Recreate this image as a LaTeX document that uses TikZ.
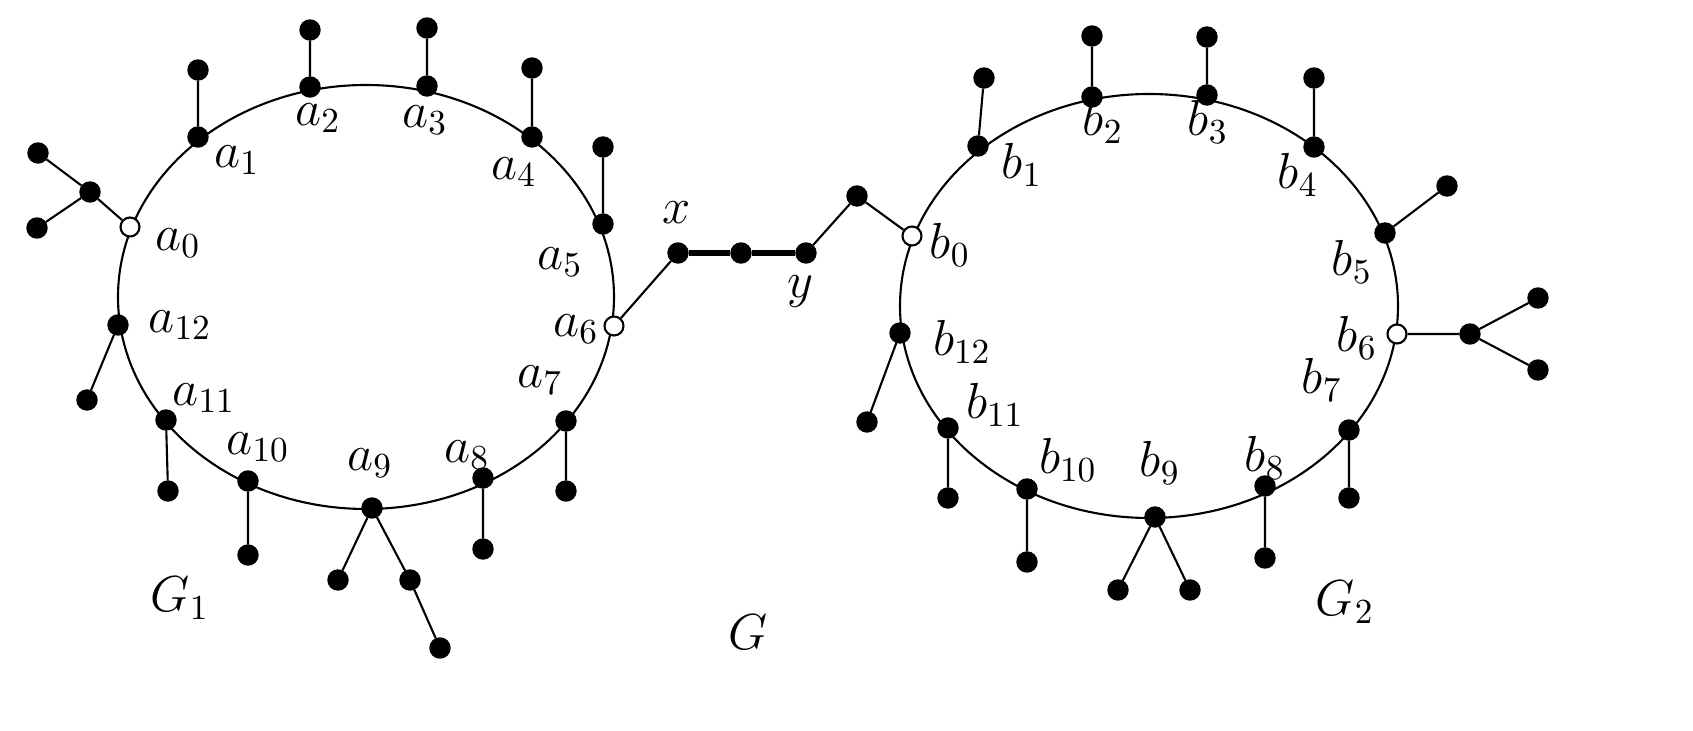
\documentclass[tikz,border=0pt]{standalone}
\begin{document}
\begin{tikzpicture}[x=0.01cm,y=-0.01cm,
  dot/.style={circle,fill=black,draw=black,inner sep=0pt,minimum size=0.2cm},
  odot/.style={circle,fill=white,draw=black,line width=0.6pt,inner sep=0pt,minimum size=0.19cm},
  lbl/.style={font=\fontsize{14}{16}\selectfont},
  edge/.style={line width=0.6pt},
  heavy/.style={line width=1.5pt}]
\useasboundingbox (0,0) rectangle (1693,731);
\draw[edge] (366,297) ellipse [x radius=248, y radius=212];
\draw[edge] (1149,306) ellipse [x radius=249, y radius=212];
\node[odot] (a0) at (130,227) {};
\node[dot] (a1) at (198,137) {};
\node[dot] (a2) at (310,87) {};
\node[dot] (a3) at (427,86) {};
\node[dot] (a4) at (532,137) {};
\node[dot] (a5) at (603,224) {};
\node[odot] (a6) at (614,326) {};
\node[dot] (a7) at (566,421) {};
\node[dot] (a8) at (483,478) {};
\node[dot] (a9) at (372,508) {};
\node[dot] (a10) at (248,481) {};
\node[dot] (a11) at (166,420) {};
\node[dot] (a12) at (118,325) {};
\node[dot] (p0) at (90,192) {};
\node[dot] (p0a) at (38,153) {};
\node[dot] (p0b) at (37,228) {};
\node[dot] (p1) at (198,70) {};
\node[dot] (p2) at (310,30) {};
\node[dot] (p3) at (427,28) {};
\node[dot] (p4) at (532,68) {};
\node[dot] (p5) at (603,147) {};
\node[dot] (p7) at (566,491) {};
\node[dot] (p8) at (483,549) {};
\node[dot] (p9a) at (338,580) {};
\node[dot] (p9b) at (410,580) {};
\node[dot] (p9c) at (440,648) {};
\node[dot] (p10) at (248,555) {};
\node[dot] (p11) at (168,491) {};
\node[dot] (p12) at (87,400) {};
\draw[edge] (a0)--(p0) (p0)--(p0a) (p0)--(p0b) (a1)--(p1) (a2)--(p2) (a3)--(p3)
  (a4)--(p4) (a5)--(p5) (a7)--(p7) (a8)--(p8) (a9)--(p9a) (a9)--(p9b) (p9b)--(p9c)
  (a10)--(p10) (a11)--(p11) (a12)--(p12);
\node[dot] (x) at (678,253) {};
\node[dot] (m) at (741,253) {};
\node[dot] (y) at (806,253) {};
\node[dot] (q) at (857,196) {};
\node[odot] (b0) at (912,236) {};
\draw[edge] (a6)--(x);
\draw[heavy] (x)--(m)--(y);
\draw[edge] (y)--(q)--(b0);
\node[dot] (b1) at (978,146) {};
\node[dot] (b2) at (1092,97) {};
\node[dot] (b3) at (1207,95) {};
\node[dot] (b4) at (1314,147) {};
\node[dot] (b5) at (1385,233) {};
\node[odot] (b6) at (1397,334) {};
\node[dot] (b7) at (1349,430) {};
\node[dot] (b8) at (1265,486) {};
\node[dot] (b9) at (1155,517) {};
\node[dot] (b10) at (1027,489) {};
\node[dot] (b11) at (948,428) {};
\node[dot] (b12) at (900,333) {};
\node[dot] (r1) at (984,78) {};
\node[dot] (r2) at (1092,36) {};
\node[dot] (r3) at (1207,37) {};
\node[dot] (r4) at (1314,78) {};
\node[dot] (r5) at (1447,186) {};
\node[dot] (r6) at (1470,334) {};
\node[dot] (r6a) at (1538,298) {};
\node[dot] (r6b) at (1538,370) {};
\node[dot] (r7) at (1349,498) {};
\node[dot] (r8) at (1265,558) {};
\node[dot] (r9a) at (1118,590) {};
\node[dot] (r9b) at (1190,590) {};
\node[dot] (r10) at (1027,562) {};
\node[dot] (r11) at (948,498) {};
\node[dot] (r12) at (867,422) {};
\draw[edge] (b1)--(r1) (b2)--(r2) (b3)--(r3) (b4)--(r4) (b5)--(r5) (b6)--(r6)
  (r6)--(r6a) (r6)--(r6b) (b7)--(r7) (b8)--(r8) (b9)--(r9a) (b9)--(r9b)
  (b10)--(r10) (b11)--(r11) (b12)--(r12);
\node[lbl] (la0) at (178,243) {$a_{0}$};
\node[lbl] (la1) at (237,160) {$a_{1}$};
\node[lbl] (la2) at (318,118) {$a_{2}$};
\node[lbl] (la3) at (425,120) {$a_{3}$};
\node[lbl] (la4) at (514,172) {$a_{4}$};
\node[lbl] (la5) at (560,262) {$a_{5}$};
\node[lbl] (la6) at (576,329) {$a_{6}$};
\node[lbl] (la7) at (540,380) {$a_{7}$};
\node[lbl] (la8) at (467,455) {$a_{8}$};
\node[lbl] (la9) at (370,463) {$a_{9}$};
\node[lbl] (la10) at (258,447) {$a_{10}$};
\node[lbl] (la11) at (204,398) {$a_{11}$};
\node[lbl] (la12) at (180,325) {$a_{12}$};
\node[lbl] (lb0) at (950,245) {$b_{0}$};
\node[lbl] (lb1) at (1022,165) {$b_{1}$};
\node[lbl] (lb2) at (1103,122) {$b_{2}$};
\node[lbl] (lb3) at (1208,122) {$b_{3}$};
\node[lbl] (lb4) at (1298,175) {$b_{4}$};
\node[lbl] (lb5) at (1352,262) {$b_{5}$};
\node[lbl] (lb6) at (1357,338) {$b_{6}$};
\node[lbl] (lb7) at (1322,380) {$b_{7}$};
\node[lbl] (lb8) at (1265,458) {$b_{8}$};
\node[lbl] (lb9) at (1160,463) {$b_{9}$};
\node[lbl] (lb10) at (1068,460) {$b_{10}$};
\node[lbl] (lb11) at (995,405) {$b_{11}$};
\node[lbl] (lb12) at (962,342) {$b_{12}$};
\node[lbl] (lx) at (677,213) {$x$};
\node[lbl] (ly) at (800,292) {$y$};
\node[lbl] (lG) at (748,632) {$G$};
\node[lbl] (lG1) at (180,598) {$G_{1}$};
\node[lbl] (lG2) at (1345,602) {$G_{2}$};
\end{tikzpicture}
\end{document}
